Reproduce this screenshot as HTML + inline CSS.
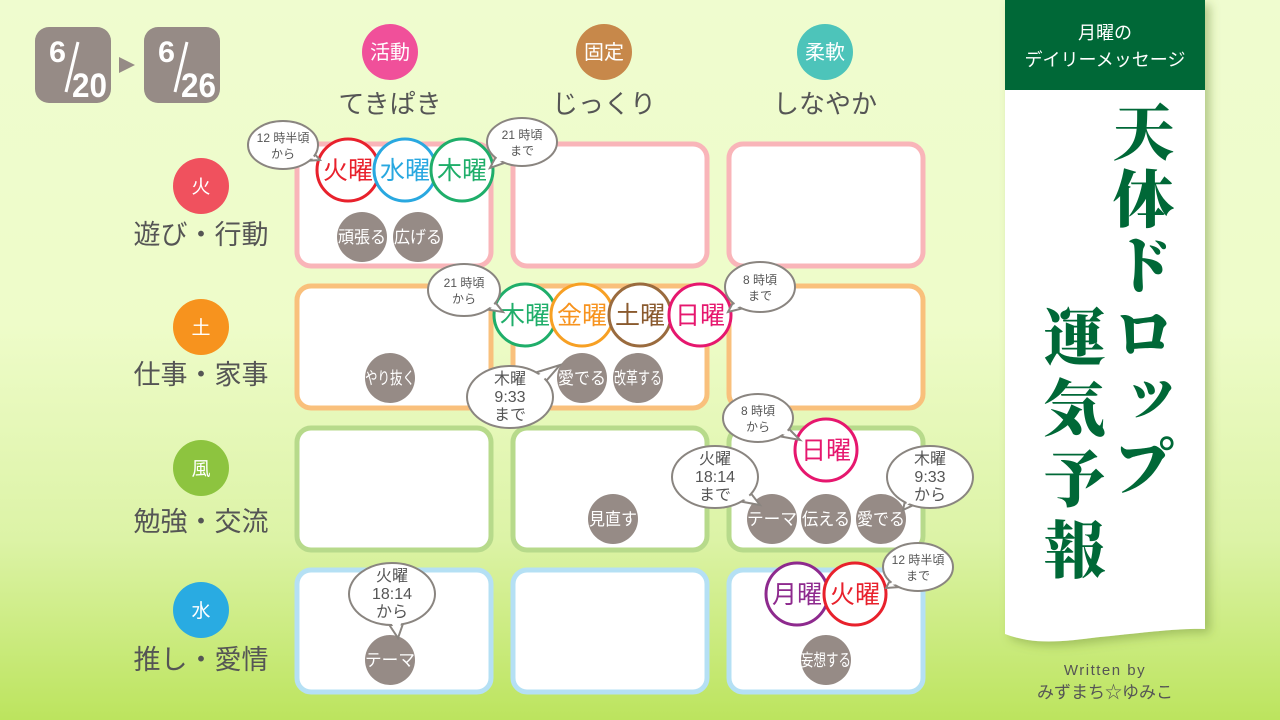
<!DOCTYPE html>
<html><head><meta charset="utf-8">
<style>
html,body{margin:0;padding:0;width:1280px;height:720px;overflow:hidden}
body{background:linear-gradient(180deg,#effccf 0%,#eefcc9 45%,#dcf3a6 75%,#bce45e 100%);font-family:"Liberation Sans","Noto Sans CJK JP",sans-serif;position:relative}
svg{position:absolute;left:0;top:0}
svg text{font-family:"Liberation Sans","Noto Sans CJK JP",sans-serif}
.vt{position:absolute;writing-mode:vertical-rl;font-family:"Liberation Serif","Noto Serif CJK SC",serif;font-weight:900;color:#006837;font-size:62px;line-height:1;letter-spacing:5px}
</style></head><body>
<svg width="1280" height="720" viewBox="0 0 1280 720">
<defs>
<filter id="sh" x="-10%" y="-5%" width="130%" height="115%"><feDropShadow dx="5" dy="4" stdDeviation="5" flood-color="#6a8a30" flood-opacity="0.45"/></filter>
</defs>
<rect x="35" y="27" width="76" height="76" rx="14" fill="#968b86"/>
<rect x="144" y="27" width="76" height="76" rx="14" fill="#968b86"/>
<polygon points="119,57 135,65 119,73" fill="#968b86"/>
<g fill="#fff" font-weight="bold">
<text x="49" y="62" font-size="30" textLength="17" lengthAdjust="spacingAndGlyphs">6</text><line x1="66" y1="92" x2="78" y2="42" stroke="#fff" stroke-width="3"/><text x="72" y="97" font-size="34" textLength="35" lengthAdjust="spacingAndGlyphs">20</text>
<text x="158" y="62" font-size="30" textLength="17" lengthAdjust="spacingAndGlyphs">6</text><line x1="175" y1="92" x2="187" y2="42" stroke="#fff" stroke-width="3"/><text x="181" y="97" font-size="34" textLength="35" lengthAdjust="spacingAndGlyphs">26</text>
</g>
<circle cx="390" cy="52" r="28" fill="#f0509a"/><circle cx="604" cy="52" r="28" fill="#c7884a"/><circle cx="825" cy="52" r="28" fill="#4dc4ba"/>
<g fill="#fff" font-size="20" text-anchor="middle"><text x="390" y="59">活動</text><text x="604" y="59">固定</text><text x="825" y="59">柔軟</text></g>
<g fill="#555" font-size="26" text-anchor="middle"><text x="390" y="113">てきぱき</text><text x="604" y="113">じっくり</text><text x="825" y="113">しなやか</text></g>
<circle cx="201" cy="186" r="28" fill="#f0515e"/><circle cx="201" cy="327" r="28" fill="#f7931e"/><circle cx="201" cy="468" r="28" fill="#8dc43f"/><circle cx="201" cy="610" r="28" fill="#29abe2"/>
<g fill="#fff" font-size="19" text-anchor="middle"><text x="201" y="193">火</text><text x="201" y="334">土</text><text x="201" y="475">風</text><text x="201" y="617">水</text></g>
<g fill="#555" font-size="27" text-anchor="middle"><text x="201" y="244">遊び・行動</text><text x="201" y="384">仕事・家事</text><text x="201" y="531">勉強・交流</text><text x="201" y="669">推し・愛情</text></g>
<g fill="#fff" stroke-width="5">
<g stroke="#f9b5b9"><rect x="297" y="144" width="194" height="122" rx="14"/><rect x="513" y="144" width="194" height="122" rx="14"/><rect x="729" y="144" width="194" height="122" rx="14"/></g>
<g stroke="#f9c07c"><rect x="297" y="286" width="194" height="122" rx="14"/><rect x="513" y="286" width="194" height="122" rx="14"/><rect x="729" y="286" width="194" height="122" rx="14"/></g>
<g stroke="#b7da8b"><rect x="297" y="428" width="194" height="122" rx="14"/><rect x="513" y="428" width="194" height="122" rx="14"/><rect x="729" y="428" width="194" height="122" rx="14"/></g>
<g stroke="#b5e0f4"><rect x="297" y="570" width="194" height="122" rx="14"/><rect x="513" y="570" width="194" height="122" rx="14"/><rect x="729" y="570" width="194" height="122" rx="14"/></g>
</g>
<g fill="#968b86"><circle cx="362" cy="237" r="25"/><circle cx="418" cy="237" r="25"/><circle cx="390" cy="378" r="25"/><circle cx="582" cy="378" r="25"/><circle cx="638" cy="378" r="25"/><circle cx="613" cy="519" r="25"/><circle cx="772" cy="519" r="25"/><circle cx="826" cy="519" r="25"/><circle cx="881" cy="519" r="25"/><circle cx="390" cy="660" r="25"/><circle cx="826" cy="660" r="25"/></g>
<g fill="#fff" font-size="17" text-anchor="middle">
<text x="362" y="243" textLength="48" lengthAdjust="spacingAndGlyphs">頑張る</text><text x="418" y="243" textLength="48" lengthAdjust="spacingAndGlyphs">広げる</text>
<text x="390" y="384" textLength="50" lengthAdjust="spacingAndGlyphs">やり抜く</text><text x="582" y="384" textLength="48" lengthAdjust="spacingAndGlyphs">愛でる</text><text x="638" y="384" textLength="48" lengthAdjust="spacingAndGlyphs">改革する</text>
<text x="613" y="525" textLength="48" lengthAdjust="spacingAndGlyphs">見直す</text><text x="772" y="525" textLength="50" lengthAdjust="spacingAndGlyphs">テーマ</text><text x="826" y="525" textLength="48" lengthAdjust="spacingAndGlyphs">伝える</text><text x="881" y="525" textLength="48" lengthAdjust="spacingAndGlyphs">愛でる</text>
<text x="390" y="666" textLength="50" lengthAdjust="spacingAndGlyphs">テーマ</text><text x="826" y="666" textLength="50" lengthAdjust="spacingAndGlyphs">妄想する</text>
</g>
<g fill="#fff" stroke-width="3">
<circle cx="348" cy="170" r="31" stroke="#e8212c"/><circle cx="405" cy="170" r="31" stroke="#29a8e0"/><circle cx="462" cy="170" r="31" stroke="#1fae6a"/>
<circle cx="525" cy="315" r="31" stroke="#1fae6a"/><circle cx="582" cy="315" r="31" stroke="#f7a024"/><circle cx="640" cy="315" r="31" stroke="#9a6b3e"/><circle cx="700" cy="315" r="31" stroke="#e6176e"/>
<circle cx="826" cy="450" r="31" stroke="#e6176e"/>
<circle cx="797" cy="594" r="31" stroke="#8e2a8e"/><circle cx="855" cy="594" r="31" stroke="#e8212c"/>
</g>
<g font-size="25" text-anchor="middle">
<text x="348" y="179" fill="#e8212c">火曜</text><text x="405" y="179" fill="#29a8e0">水曜</text><text x="462" y="179" fill="#1fae6a">木曜</text>
<text x="525" y="324" fill="#1fae6a">木曜</text><text x="582" y="324" fill="#f7931e">金曜</text><text x="640" y="324" fill="#8a5a2e">土曜</text><text x="700" y="324" fill="#e6176e">日曜</text>
<text x="826" y="459" fill="#e6176e">日曜</text>
<text x="797" y="603" fill="#8e2a8e">月曜</text><text x="855" y="603" fill="#e8212c">火曜</text>
</g>
<g fill="#fff" stroke="#8a8580" stroke-width="2">
<path d="M304,161 L320,160 L310,149Z"/><ellipse cx="283" cy="145" rx="35" ry="24"/>
<path d="M499,151 L490,168 L507,162Z"/><ellipse cx="522" cy="142" rx="35" ry="24"/>
<path d="M484,309 L503,312 L491,297Z"/><ellipse cx="464" cy="290" rx="36" ry="26"/>
<path d="M736,297 L728,312 L744,308Z"/><ellipse cx="760" cy="287" rx="35" ry="25"/>
<path d="M540,388 L560,365 L531,374Z"/><ellipse cx="510" cy="397" rx="43" ry="31"/>
<path d="M778,436 L800,440 L784,424Z"/><ellipse cx="758" cy="418" rx="35" ry="24"/>
<path d="M738,501 L760,505 L746,487Z"/><ellipse cx="715" cy="477" rx="43" ry="31"/>
<path d="M907,492 L903,510 L920,502Z"/><ellipse cx="930" cy="477" rx="43" ry="31"/>
<path d="M893,575 L886,588 L901,587Z"/><ellipse cx="918" cy="567" rx="35" ry="24"/>
<path d="M388,623 L398,638 L404,621Z"/><ellipse cx="392" cy="594" rx="43" ry="31"/>
</g>
<g fill="#fff">
<path d="M303,158 L316,159 L308,150Z"/><path d="M500,153 L493,164 L505,160Z"/><path d="M486,306 L499,310 L490,299Z"/><path d="M738,299 L731,309 L742,306Z"/>
<path d="M537,386 L555,368 L533,377Z"/><path d="M779,433 L795,438 L783,426Z"/><path d="M739,498 L755,503 L745,490Z"/><path d="M909,494 L906,505 L917,500Z"/>
<path d="M895,577 L890,585 L899,584Z"/><path d="M390,621 L398,634 L402,620Z"/>
</g>
<g fill="#555" font-size="12" text-anchor="middle">
<text x="283" y="142">12 時半頃</text><text x="283" y="158">から</text>
<text x="522" y="139">21 時頃</text><text x="522" y="155">まで</text>
<text x="464" y="287">21 時頃</text><text x="464" y="303">から</text>
<text x="760" y="284">8 時頃</text><text x="760" y="300">まで</text>
<text x="758" y="415">8 時頃</text><text x="758" y="431">から</text>
<text x="918" y="564">12 時半頃</text><text x="918" y="580">まで</text>
</g>
<g fill="#555" font-size="16" text-anchor="middle">
<text x="510" y="384">木曜</text><text x="510" y="402">9:33</text><text x="510" y="420">まで</text>
<text x="715" y="464">火曜</text><text x="715" y="482">18:14</text><text x="715" y="500">まで</text>
<text x="930" y="464">木曜</text><text x="930" y="482">9:33</text><text x="930" y="500">から</text>
<text x="392" y="581">火曜</text><text x="392" y="599">18:14</text><text x="392" y="617">から</text>
</g>
<path d="M1005,0 H1205 V629 C1180,628 1140,633 1100,637 C1060,642 1035,645 1005,634 Z" fill="#fff" filter="url(#sh)"/>
<rect x="1005" y="0" width="200" height="90" fill="#006837"/>
<g fill="#fff" font-size="18" text-anchor="middle"><text x="1105" y="39">月曜の</text><text x="1105" y="66">デイリーメッセージ</text></g>
<g fill="#555" text-anchor="middle"><text x="1105" y="675" font-size="15" letter-spacing="1.5">Written by</text><text x="1105" y="698" font-size="17">みずまち☆ゆみこ</text></g>
</svg>
<div class="vt" style="left:1106px;top:100px;">天体ドロップ</div>
<div class="vt" style="left:1037px;top:305px;letter-spacing:9px;">運気予報</div>
</body></html>
